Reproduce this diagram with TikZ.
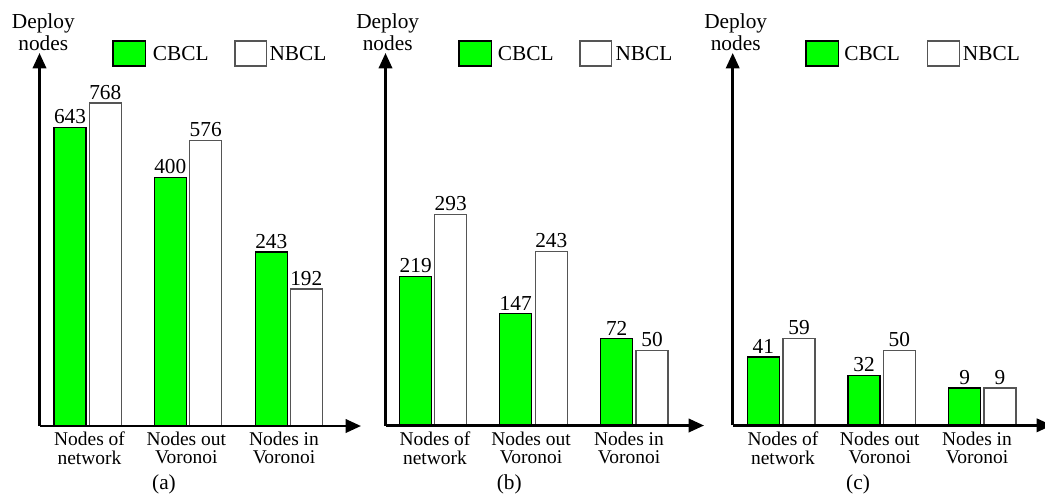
\documentclass[tikz,border=0pt]{standalone}
\usepackage{fontspec}
\setmainfont{Liberation Serif}
\usetikzlibrary{arrows.meta}
\definecolor{barGreen}{RGB}{0,255,0}
\definecolor{barEdge}{RGB}{85,85,85}

\tikzset{
  axis/.style={line width=1.9pt, -{Triangle[length=11.5pt,width=10pt]}},
  cbclbar/.style={draw=black, fill=barGreen, line width=0.8pt},
  nbclbar/.style={draw=barEdge, fill=white, line width=0.8pt},
  val/.style={anchor=south, inner sep=2.5pt, font=\rmfamily\fontsize{16}{16}\selectfont},
  cat/.style={anchor=north, inner sep=0pt, align=center, font=\rmfamily\fontsize{14.6}{13.6}\selectfont},
  capt/.style={inner sep=0pt, font=\rmfamily\fontsize{16}{16}\selectfont},
  ylab/.style={anchor=north, inner sep=0pt, align=center, font=\rmfamily\fontsize{16}{16.3}\selectfont},
  legtxt/.style={anchor=west, inner sep=0pt, font=\rmfamily\fontsize{16}{16}\selectfont}
}

\begin{document}
\begin{tikzpicture}[x=0.75pt,y=0.75pt,yscale=-1,xscale=1]
\useasboundingbox (0,0) rectangle (1045,497);

%----------------------------------------------- (a)
\coordinate (oA) at (39.5,426);
\coordinate (xA) at (361,426);
\coordinate (yA) at (39.5,53);
% bars
\draw [cbclbar] (54,426) rectangle (86,127.5);
\draw [nbclbar] (89.3,426) rectangle (121.3,103);
\draw [cbclbar] (154.3,426) rectangle (186.3,177.3);
\draw [nbclbar] (189.7,426) rectangle (221.7,140.3);
\draw [cbclbar] (255.3,426) rectangle (287.3,252);
\draw [nbclbar] (290.3,426) rectangle (322.3,289);
% axes
\draw [axis] (oA) -- (xA);
\draw [axis] (oA) -- (yA);
% values
\node [val] (vA1) at (70,127.5) {643};
\node [val] (vA2) at (105.3,103) {768};
\node [val] (vA3) at (170.3,177.3) {400};
\node [val] (vA4) at (205.7,140.3) {576};
\node [val] (vA5) at (271.3,252) {243};
\node [val] (vA6) at (306.3,289) {192};
% categories
\node [cat] (cA1) at (89.5,432) {Nodes of\\network};
\node [cat] (cA2) at (186.3,432) {Nodes out\\Voronoi};
\node [cat] (cA3) at (284,432) {Nodes in\\Voronoi};
\node [capt] (capA) at (164,484) {(a)};
\node [ylab] (lA) at (43.3,13.5) {Deploy\\nodes};
% legend
\draw [cbclbar] (113,41) rectangle (145.3,66);
\node [legtxt] (gA) at (152.7,54) {CBCL};
\draw [nbclbar] (235,41) rectangle (266.7,66);
\node [legtxt] (wA) at (269.3,54) {NBCL};

%----------------------------------------------- (b)
\coordinate (oB) at (385.5,425.5);
\coordinate (xB) at (704,425.5);
\coordinate (yB) at (385.5,53);
% bars
\draw [cbclbar] (399.7,425.5) rectangle (431.7,276.7);
\draw [nbclbar] (434.7,425.5) rectangle (466.7,214.3);
\draw [cbclbar] (499.7,425.5) rectangle (531.7,313.7);
\draw [nbclbar] (535.3,425.5) rectangle (567.3,251.7);
\draw [cbclbar] (600.7,425.5) rectangle (632.7,338.7);
\draw [nbclbar] (636,425.5) rectangle (668,350.7);
% axes
\draw [axis] (oB) -- (xB);
\draw [axis] (oB) -- (yB);
% values
\node [val] (vB1) at (415.7,276.7) {219};
\node [val] (vB2) at (450.7,214.3) {293};
\node [val] (vB3) at (515.7,313.7) {147};
\node [val] (vB4) at (551.3,251.7) {243};
\node [val] (vB5) at (616.7,338.7) {72};
\node [val] (vB6) at (652,350.7) {50};
% categories
\node [cat] (cB1) at (435,432) {Nodes of\\network};
\node [cat] (cB2) at (531,432) {Nodes out\\Voronoi};
\node [cat] (cB3) at (629,432) {Nodes in\\Voronoi};
\node [capt] (capB) at (509.3,484) {(b)};
\node [ylab] (lB) at (387.7,13.5) {Deploy\\nodes};
% legend
\draw [cbclbar] (459,41) rectangle (491.7,66);
\node [legtxt] (gB) at (497.7,54) {CBCL};
\draw [nbclbar] (580,41) rectangle (611.7,66);
\node [legtxt] (wB) at (615.3,54) {NBCL};

%----------------------------------------------- (c)
\coordinate (oC) at (732.7,425.3);
\coordinate (xC) at (1052,425.3);
\coordinate (yC) at (732.7,53);
% bars
\draw [cbclbar] (747.3,425.3) rectangle (779.3,357);
\draw [nbclbar] (783,425.3) rectangle (815,338.7);
\draw [cbclbar] (848,425.3) rectangle (880,375.3);
\draw [nbclbar] (883.3,425.3) rectangle (915.3,350.7);
\draw [cbclbar] (948.7,425.3) rectangle (980.7,388);
\draw [nbclbar] (984,425.3) rectangle (1016,388);
% axes
\draw [axis] (oC) -- (xC);
\draw [axis] (oC) -- (yC);
% values
\node [val] (vC1) at (763.3,357) {41};
\node [val] (vC2) at (799,338.7) {59};
\node [val] (vC3) at (864,375.3) {32};
\node [val] (vC4) at (899.3,350.7) {50};
\node [val] (vC5) at (964.7,388) {9};
\node [val] (vC6) at (1000,388) {9};
% categories
\node [cat] (cC1) at (783,432) {Nodes of\\network};
\node [cat] (cC2) at (879.7,432) {Nodes out\\Voronoi};
\node [cat] (cC3) at (977,432) {Nodes in\\Voronoi};
\node [capt] (capC) at (858,484) {(c)};
\node [ylab] (lC) at (735.7,13.5) {Deploy\\nodes};
% legend
\draw [cbclbar] (806,41) rectangle (838.7,66);
\node [legtxt] (gC) at (844,54) {CBCL};
\draw [nbclbar] (927.3,41) rectangle (959.3,66);
\node [legtxt] (wC) at (962.7,54) {NBCL};

\end{tikzpicture}
\end{document}
